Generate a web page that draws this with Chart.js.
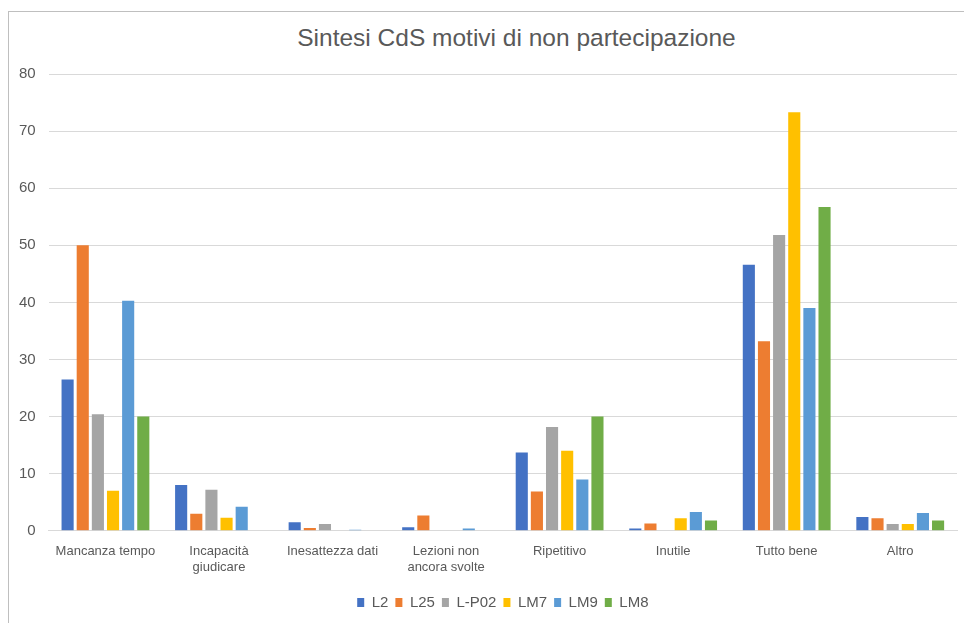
<!DOCTYPE html>
<html>
<head>
<meta charset="utf-8">
<script src="https://cdn.jsdelivr.net/npm/chart.js@4/dist/chart.umd.min.js"></script>
<style>
  html, body { margin: 0; padding: 0; background: #ffffff; overflow: hidden; }
  body { width: 964px; height: 623px; position: relative; font-family: 'Liberation Sans', Arial, sans-serif; }
  #frame {
    position: absolute; left: 8px; top: 11px; width: 1015px; height: 640px;
    border-left: 1px solid #bfbfbf; border-top: 1px solid #bfbfbf;
  }
  #title {
    position: absolute; left: 9px; top: 23px; width: 1015px; text-align: center;
    font-size: 24.5px; color: #595959; line-height: 30px;
  }
  #wrap { position: absolute; left: 0; top: 12px; width: 964px; height: 611px; }
</style>
</head>
<body>
<div id="frame"></div>
<div id="title">Sintesi CdS motivi di non partecipazione</div>
<div id="wrap"><canvas id="chart"></canvas></div>
<script>
// ====================== DATA ======================
const categories = [
    'Mancanza tempo',
    ['Incapacità', 'giudicare'],
    'Inesattezza dati',
    ['Lezioni non', 'ancora svolte'],
    'Ripetitivo',
    'Inutile',
    'Tutto bene',
    'Altro'
];

const seriesNames = ['L2', 'L25', 'L-P02', 'LM7', 'LM9', 'LM8'];
const seriesColors = ['#4472C4', '#ED7D31', '#A5A5A5', '#FFC000', '#5B9BD5', '#70AD47'];

const valuesL2   = [26.5, 8.0, 1.5, 0.6, 13.7, 0.4, 46.6, 2.4];
const valuesL25  = [50.0, 3.0, 0.5, 2.7,  6.9, 1.3, 33.2, 2.2];
const valuesLP02 = [20.4, 7.2, 1.2, 0,   18.2, 0,   51.8, 1.2];
const valuesLM7  = [7.0,  2.3, 0,   0,   14.0, 2.2, 73.3, 1.2];
const valuesLM9  = [40.3, 4.2, 0.2, 0.4,  9.0, 3.3, 39.0, 3.1];
const valuesLM8  = [20.0, 0,   0,   0,   20.0, 1.8, 56.7, 1.8];

const yTicks = [0, 10, 20, 30, 40, 50, 60, 70, 80];

// ====================== CHART ======================
const allValues = [valuesL2, valuesL25, valuesLP02, valuesLM7, valuesLM9, valuesLM8];
const textColor = '#595959';
const gridColor = '#d9d9d9';
const fontFamily = "'Liberation Sans', Arial, sans-serif";

new Chart(document.getElementById('chart').getContext('2d'), {
    type: 'bar',
    data: {
        labels: categories,
        datasets: seriesNames.map((name, i) => ({
            label: name,
            data: allValues[i],
            backgroundColor: seriesColors[i],
            borderWidth: 0,
            categoryPercentage: 0.8,
            barPercentage: 0.8
        }))
    },
    options: {
        responsive: true,
        maintainAspectRatio: false,
        animation: false,
        layout: { padding: { left: 6, right: 7, top: 62, bottom: 3 } },
        plugins: {
            title: { display: false },
            tooltip: { enabled: false },
            legend: {
                position: 'bottom',
                fullSize: false,
                labels: {
                    color: textColor,
                    boxWidth: 7,
                    boxHeight: 9,
                    padding: 7,
                    font: { family: fontFamily, size: 15 }
                }
            }
        },
        scales: {
            x: {
                grid: { display: false, drawTicks: false },
                border: { color: gridColor, width: 1 },
                afterFit: (axis) => { axis.paddingLeft = 0; axis.paddingRight = 0; },
                ticks: {
                    color: textColor,
                    padding: 13,
                    maxRotation: 0,
                    autoSkip: false,
                    font: { family: fontFamily, size: 13 }
                }
            },
            y: {
                min: yTicks[0],
                max: yTicks[yTicks.length - 1],
                afterBuildTicks: (axis) => { axis.ticks = yTicks.map(v => ({ value: v })); },
                grid: { color: gridColor, drawTicks: false },
                border: { display: false },
                ticks: {
                    color: textColor,
                    padding: 13,
                    font: { family: fontFamily, size: 15 }
                }
            }
        }
    }
});
</script>
</body>
</html>
